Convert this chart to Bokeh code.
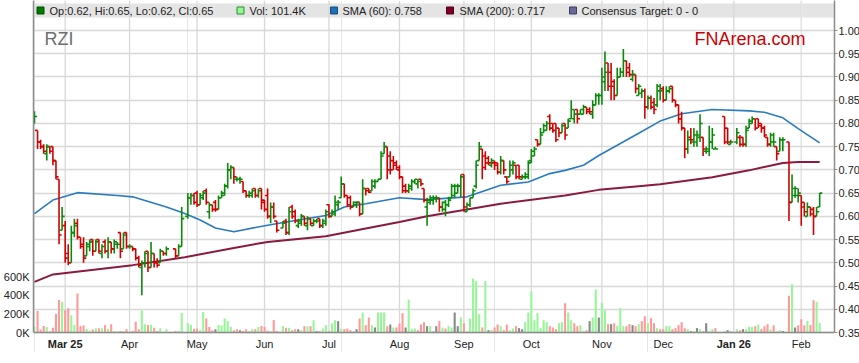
import numpy as np
import pandas as pd
from bokeh.plotting import figure
from bokeh.models import (Range1d, LinearAxis, FixedTicker, ColumnDataSource, BoxAnnotation,
                          Label, Span, NumeralTickFormatter, GlobalInlineStyleSheet)
from bokeh.embed import file_html
from bokeh.resources import INLINE

# ---------------- data ----------------
START = "2025-02-17"
END = "2026-02-10"
holidays = ["2025-04-18", "2025-04-21", "2025-04-25", "2025-06-09",
            "2025-12-25", "2025-12-26", "2026-01-01", "2026-01-26"]

opens = [
    .80, .785, .76, .75, .735, .75, .75, .72, .68, .57,
    .58, .52, .50, .565, .585, .555, .54, .515, .535, .55, .525, .55, .52, .545, .525, .545, .53, .54, .565, .53, .565,
    .535, .535, .53, .51, .49, .50, .525, .49, .52, .50, .50, .525, .52, .53, .515, .535, .60, .64, .645,
    .65, .625, .64, .655, .61, .625, .63, .615, .64, .645, .665, .70, .705, .68, .68, .675, .655, .645, .645, .66, .645, .66,
    .635, .645, .60, .62, .59, .575, .59, .565, .62, .61, .58, .585, .60, .58, .595, .58, .59, .595, .58, .585,
    .625, .60, .605, .625, .64, .67, .645, .64, .62, .625, .63, .605, .66, .66, .655, .665, .675, .68, .735, .75, .73, .72, .715,
    .70, .685, .665, .655, .66, .675, .67, .68, .66, .62, .63, .635, .64, .64, .62, .615, .625, .64, .645, .65, .665,
    .69, .61, .625, .64, .665, .72, .745, .73, .725, .71, .715, .715, .695, .72, .685, .685, .70, .71, .71, .68, .685, .685,
    .72, .73, .765, .755, .78, .785, .815, .80, .80, .79, .78, .80, .79, .81, .81, .83, .82, .82, .835, .83, .82, .84, .86,
    .86, .89, .93, .91, .89, .86, .90, .91, .935, .92, .895, .905, .86, .865, .87, .835, .855, .845, .84, .87,
    .875, .85, .87, .88, .85, .84, .81, .79, .745, .77, .76, .76, .77, .77, .74, .74, .76, .745, .815, .79, .755,
    .76, .77, .77, .755, .79, .80, .81, .81, .80, .79, .77, .755, .76, .75, .74, .765, .76, .63, .645, .645,
    .645, .63, .60, .62, .615, .60, .62,
]
highs = [
    .826, .785, .765, .755, .755, .75, .75, .72, .68, .62,
    .59, .54, .58, .595, .595, .555, .555, .545, .55, .55, .55, .55, .54, .55, .555, .545, .55, .545, .565, .565, .565,
    .54, .535, .53, .515, .505, .525, .525, .545, .52, .51, .53, .525, .535, .53, .54, .62, .65, .65, .65,
    .655, .65, .655, .66, .63, .625, .635, .645, .655, .67, .715, .71, .705, .685, .685, .675, .655, .655, .66, .66, .66, .66,
    .635, .66, .63, .63, .59, .59, .595, .62, .625, .615, .595, .605, .60, .60, .595, .595, .595, .595, .595, .615,
    .626, .615, .645, .635, .686, .67, .645, .645, .632, .632, .63, .68, .66, .66, .68, .68, .68, .74, .76, .75, .74, .73, .72,
    .71, .685, .67, .67, .68, .68, .68, .68, .66, .64, .645, .645, .645, .64, .632, .635, .642, .67, .67, .67, .69,
    .69, .63, .64, .66, .72, .76, .745, .74, .73, .725, .72, .715, .73, .72, .685, .72, .72, .71, .71, .69, .695, .72,
    .745, .75, .765, .79, .80, .805, .82, .80, .80, .79, .80, .80, .81, .85, .83, .83, .83, .84, .835, .835, .85, .865, .865,
    .92, .955, .93, .93, .895, .92, .92, .96, .935, .93, .915, .905, .885, .875, .875, .86, .86, .855, .885, .885,
    .88, .88, .88, .88, .85, .84, .825, .79, .785, .79, .79, .785, .82, .77, .75, .795, .79, .75, .815, .79, .765,
    .79, .775, .77, .795, .81, .815, .81, .81, .80, .795, .77, .78, .78, .75, .77, .77, .76, .69, .665, .66,
    .645, .63, .63, .62, .62, .62, .65,
]
lows = [
    .80, .745, .745, .735, .72, .735, .71, .68, .54, .57,
    .50, .495, .50, .555, .55, .53, .50, .515, .525, .515, .525, .52, .51, .52, .51, .52, .52, .53, .51, .53, .53,
    .53, .525, .505, .49, .43, .49, .48, .49, .49, .49, .50, .515, .515, .51, .515, .535, .595, .625, .625,
    .62, .625, .635, .625, .595, .61, .61, .615, .64, .645, .66, .68, .67, .675, .67, .65, .64, .64, .64, .64, .64, .615,
    .61, .595, .585, .595, .565, .575, .56, .56, .595, .585, .575, .58, .58, .57, .58, .58, .585, .575, .575, .58,
    .597, .60, .60, .615, .64, .64, .62, .615, .62, .618, .60, .605, .645, .65, .655, .66, .675, .68, .735, .68, .69, .70, .70,
    .68, .65, .65, .65, .655, .67, .66, .665, .63, .58, .625, .625, .63, .61, .61, .60, .62, .64, .64, .65, .64,
    .61, .61, .62, .64, .66, .72, .68, .70, .71, .705, .70, .69, .69, .69, .67, .685, .69, .68, .68, .68, .68, .68,
    .715, .73, .75, .755, .78, .785, .785, .78, .76, .77, .78, .765, .79, .81, .80, .80, .82, .82, .82, .82, .81, .84, .84,
    .84, .87, .87, .85, .85, .86, .90, .90, .90, .90, .89, .865, .86, .855, .81, .83, .83, .82, .835, .85,
    .845, .85, .865, .845, .835, .80, .785, .725, .735, .755, .75, .75, .76, .73, .735, .73, .745, .745, .755, .755, .755,
    .755, .75, .75, .75, .79, .80, .785, .79, .78, .77, .75, .75, .75, .72, .74, .74, .59, .63, .64, .63,
    .58, .60, .60, .60, .56, .60, .62,
]
closes = [
    .815, .76, .75, .74, .75, .74, .72, .685, .56, .60,
    .51, .50, .565, .58, .555, .535, .51, .54, .545, .525, .545, .525, .535, .525, .545, .53, .545, .54, .525, .56, .535,
    .535, .53, .51, .495, .50, .52, .49, .52, .50, .495, .525, .52, .53, .515, .535, .595, .64, .645, .63,
    .625, .645, .65, .63, .625, .615, .615, .64, .65, .665, .70, .705, .685, .68, .68, .655, .645, .65, .655, .645, .655, .63,
    .615, .60, .62, .60, .57, .585, .565, .61, .60, .59, .59, .60, .585, .595, .585, .59, .59, .58, .59, .61,
    .60, .61, .63, .63, .67, .645, .625, .62, .63, .63, .605, .66, .655, .652, .675, .675, .68, .73, .75, .70, .70, .71, .705,
    .685, .655, .655, .665, .675, .68, .675, .67, .635, .635, .64, .64, .64, .62, .63, .625, .635, .665, .665, .665, .685,
    .62, .625, .64, .655, .71, .75, .705, .715, .715, .72, .71, .695, .72, .70, .675, .71, .715, .685, .685, .685, .69, .715,
    .74, .745, .755, .775, .795, .80, .79, .785, .765, .78, .795, .775, .805, .83, .82, .81, .83, .835, .825, .825, .84, .86, .86,
    .90, .91, .88, .88, .86, .90, .91, .935, .91, .905, .905, .875, .88, .87, .835, .855, .835, .83, .88, .87,
    .85, .87, .875, .85, .84, .81, .79, .745, .765, .765, .775, .775, .80, .745, .745, .76, .775, .745, .76, .76, .76,
    .78, .755, .755, .785, .805, .81, .79, .795, .79, .775, .755, .775, .76, .735, .765, .765, .63, .66, .66, .65,
    .62, .61, .62, .605, .60, .61, .65,
]
volumes_k = [
    60, 230, 30, 70, 60, 10, 50, 200, 350, 330,
    240, 260, 185, 80, 420, 70, 75, 40, 18, 32, 47, 47, 47, 78, 40, 90, 15, 5, 15, 15, 35,
    5, 18, 115, 35, 240, 90, 80, 82, 50, 15, 45, 5, 35, 15, 15, 210, 100, 80, 40,
    40, 25, 220, 150, 60, 25, 35, 80, 75, 150, 120, 60, 25, 35, 25, 15, 35, 15, 35, 35, 60, 70,
    60, 20, 15, 135, 15, 70, 50, 50, 25, 35, 35, 25, 68, 68, 68, 132, 15, 15, 43, 79,
    15, 97, 132, 122, 43, 36, 43, 25, 15, 36, 150, 215, 79, 161, 79, 54, 215, 215, 215, 68, 86, 54, 54,
    97, 208, 54, 354, 36, 43, 25, 86, 111, 68, 68, 10, 68, 122, 54, 43, 68, 54, 215, 68, 161,
    100, 15, 150, 580, 551, 197, 54, 551, 25, 25, 54, 86, 68, 25, 86, 25, 43, 68, 47, 36, 111, 215,
    444, 132, 208, 47, 132, 111, 68, 54, 36, 100, 111, 315, 215, 132, 100, 68, 79, 15, 25, 122, 161, 462, 161,
    319, 240, 90, 90, 100, 72, 261, 68, 68, 90, 79, 68, 90, 122, 175, 100, 154, 100, 47, 36,
    36, 68, 68, 36, 47, 79, 111, 47, 36, 15, 15, 47, 36, 15, 100, 15, 36, 47, 15, 25, 10,
    36, 25, 36, 36, 60, 60, 68, 86, 36, 68, 90, 36, 79, 10, 25, 15, 394, 520, 55, 78,
    143, 78, 125, 80, 347, 330, 101.4,
]

sma60_dates = ["2025-02-17", "2025-02-25", "2025-03-07", "2025-03-26", "2025-04-02", "2025-04-17",
               "2025-04-25", "2025-05-02", "2025-05-09", "2025-05-19", "2025-06-03", "2025-06-17",
               "2025-06-30", "2025-07-08", "2025-07-17", "2025-08-01", "2025-08-14", "2025-09-02",
               "2025-09-17", "2025-09-30", "2025-10-09", "2025-10-16", "2025-10-24", "2025-10-31",
               "2025-11-10", "2025-11-19", "2025-11-28", "2025-12-09", "2025-12-23", "2026-01-08",
               "2026-01-15", "2026-01-23", "2026-01-30", "2026-02-10"]
sma60 = [.606, .635, .651, .645, .642, .62, .606, .592, .575, .567, .581, .592,
         .602, .62, .627, .64, .636, .642, .667, .674, .692, .699, .71, .731,
         .753, .779, .805, .821, .83, .827, .824, .812, .789, .758]

sma200_dates = ["2025-02-17", "2025-02-25", "2025-04-02", "2025-04-25", "2025-05-19", "2025-06-03",
                "2025-06-30", "2025-07-17", "2025-08-01", "2025-08-14", "2025-09-17", "2025-10-16",
                "2025-10-31", "2025-11-19", "2025-11-28", "2025-12-23", "2026-01-08", "2026-01-23",
                "2026-01-30", "2026-02-10"]
sma200 = [.459, .475, .495, .512, .532, .545, .557, .574, .588, .60, .627, .645,
          .657, .665, .669, .684, .699, .715, .717, .717]

month_dates = ["2025-03-03", "2025-04-01", "2025-05-01", "2025-06-02", "2025-07-01", "2025-08-01",
               "2025-09-01", "2025-10-01", "2025-11-03", "2025-12-01", "2026-01-01", "2026-02-02"]
month_labels = ["Mar 25", "Apr", "May", "Jun", "Jul", "Aug", "Sep", "Oct", "Nov", "Dec", "Jan 26", "Feb"]
bold_labels = ["Mar 25", "Jan 26"]

price_ticks = [0.35, 0.40, 0.45, 0.50, 0.55, 0.60, 0.65, 0.70, 0.75, 0.80, 0.85, 0.90, 0.95, 1.00]
vol_ticks = [0, 200000, 400000, 600000]
vol_tick_labels = ["0K", "200K", "400K", "600K"]

ticker_name = "RZI"
consensus = "0 - 0"

# ---------------- layout helpers ----------------
X0_PX, PX_PER_DAY = 32.0, 3.067       # pixel position of first weekday, pixels per weekday
Y0_PX, PX_PER_PRICE = 332.0, 464.6    # pixel position of price 0.35, pixels per 1.00 of price
VOL_PER_PX = 10753.0                  # volume units per pixel
FONT = "Liberation Sans"
AXIS_GREY = "#8c8c8c"
GRID_GREY = "#d8d8d8"
TEXT = "#222222"


def xpx(px):
    return (px - X0_PX) / PX_PER_DAY


def ypx(py):
    return 0.35 + (Y0_PX - py) / PX_PER_PRICE


def wk(d):
    return int(np.busday_count(np.datetime64(START, "D"), np.datetime64(pd.Timestamp(d).date(), "D")))


dates = [d for d in pd.bdate_range(START, END) if d.strftime("%Y-%m-%d") not in holidays]
assert len(dates) == len(opens) == len(highs) == len(lows) == len(closes) == len(volumes_k)
xs = [wk(d) for d in dates]

col = ["#0a8a0a" if c >= o else "#d40000" for o, c in zip(opens, closes)]
vcol = []
prev = opens[0]
for c in closes:
    vcol.append("#98f598" if c > prev else ("#ff9a9a" if c < prev else "#888888"))
    prev = c

src = ColumnDataSource(dict(
    x=xs, xl=[x - 0.85 for x in xs], xr=[x + 0.85 for x in xs],
    o=opens, h=highs, l=lows, c=closes,
    v=[v * 1000 for v in volumes_k], col=col, vcol=vcol))

FRAME_H = 352
p = figure(frame_width=801, frame_height=FRAME_H,
           x_range=Range1d(xpx(31), xpx(832)), y_range=Range1d(ypx(FRAME_H), ypx(0)),
           x_axis_location=None, y_axis_location="right",
           output_backend="svg", toolbar_location=None,
           min_border_left=31, min_border_right=0, min_border_top=0, min_border_bottom=0,
           background_fill_color="white", border_fill_color="white", outline_line_color=None)
p.stylesheets = [GlobalInlineStyleSheet(css="html, body { margin: 0; padding: 0; overflow: hidden; }")]
p.extra_y_ranges = {"vol": Range1d(-(FRAME_H - Y0_PX) * VOL_PER_PX, Y0_PX * VOL_PER_PX)}

# legend band (under the grid)
p.add_layout(BoxAnnotation(bottom=ypx(17), top=ypx(3), fill_color="#e4e4e4", fill_alpha=1.0,
                           line_color=None, level="image"))

# right (price) axis
ya = p.yaxis[0]
ya.ticker = FixedTicker(ticks=price_ticks)
ya.formatter = NumeralTickFormatter(format="0.00")
ya.bounds = (0.35, ypx(0))
ya.major_tick_out = 3
ya.major_tick_in = 0
ya.major_tick_line_color = AXIS_GREY
ya.minor_tick_line_color = None
ya.axis_line_color = AXIS_GREY
ya.axis_line_width = 1.5
ya.major_label_standoff = 1
ya.major_label_text_font = FONT
ya.major_label_text_font_size = "11px"
ya.major_label_text_color = TEXT

# left (volume) axis
va = LinearAxis(y_range_name="vol", ticker=FixedTicker(ticks=vol_ticks),
                major_label_overrides={t: s for t, s in zip(vol_ticks, vol_tick_labels)})
va.bounds = (0, Y0_PX * VOL_PER_PX)
va.major_tick_out = 0
va.major_tick_in = 0
va.minor_tick_line_color = None
va.axis_line_color = AXIS_GREY
va.axis_line_width = 1.5
va.major_label_standoff = 4
va.major_label_text_font = FONT
va.major_label_text_font_size = "11px"
va.major_label_text_color = TEXT
p.add_layout(va, "left")

# grids: horizontal from the price ticks, vertical at month starts
p.ygrid.grid_line_color = GRID_GREY
p.ygrid.grid_line_width = 1.3
month_x = [wk(d) for d in month_dates]
vgrid = p.segment(x0=month_x, y0=[0.35] * len(month_x), x1=month_x, y1=[ypx(0)] * len(month_x),
                  line_color=GRID_GREY, line_width=1.3)
vgrid.level = "underlay"

# bottom axis line and month labels
p.add_layout(Span(location=0.35, dimension="width", line_color=AXIS_GREY, line_width=1.5))
for mx, lab in zip(month_x, month_labels):
    p.add_layout(Label(x=mx, y=ypx(343), text=lab, text_font=FONT, text_font_size="11px",
                       text_font_style="bold" if lab in bold_labels else "normal",
                       text_color=TEXT, text_align="center", text_baseline="middle"))

# volume
p.vbar(x="x", top="v", bottom=0, width=0.68, y_range_name="vol", source=src,
       fill_color="vcol", line_color=None)

# moving averages
p.line([wk(d) for d in sma200_dates], sma200, line_color="#8b1a40", line_width=2)
p.line([wk(d) for d in sma60_dates], sma60, line_color="#2a7bbf", line_width=1.6)

# OHLC bars
p.segment(x0="x", y0="l", x1="x", y1="h", line_color="col", line_width=1.6, source=src)
p.segment(x0="xl", y0="o", x1="x", y1="o", line_color="col", line_width=1.6, source=src)
p.segment(x0="x", y0="c", x1="xr", y1="c", line_color="col", line_width=1.6, source=src)

# titles inside the plot
p.add_layout(Label(x=xpx(42), y=ypx(38), text=ticker_name, text_font=FONT, text_font_size="18px",
                   text_color="#6e6e6e", text_baseline="alphabetic"))
p.add_layout(Label(x=xpx(692), y=ypx(38), text="FNArena.com", text_font=FONT, text_font_size="18px",
                   text_color="#cc0000", text_baseline="alphabetic"))

# legend strip
legend_items = [
    ("#007a00", "#004d00", f"Op:{opens[-1]:.2f}, Hi:{highs[-1]:.2f}, Lo:{lows[-1]:.2f}, Cl:{closes[-1]:.2f}", 38, 47),
    ("#98f598", "#2d8a2d", f"Vol: {volumes_k[-1]:.1f}K", 238, 247),
    ("#1f6fb5", "#124c80", f"SMA (60): {sma60[-1]:.3f}", 331.5, 340),
    ("#800025", "#4d0016", f"SMA (200): {sma200[-1]:.3f}", 447.5, 457),
    ("#6a6a9a", "#3d3d5c", f"Consensus Target: {consensus}", 570.5, 579),
]
p.scatter([xpx(it[3]) for it in legend_items], [ypx(10)] * len(legend_items), marker="square", size=7,
          fill_color=[it[0] for it in legend_items], line_color=[it[1] for it in legend_items])
for fc, lc, txt, sx, tx in legend_items:
    p.add_layout(Label(x=xpx(tx), y=ypx(10.5), text=txt, text_font=FONT, text_font_size="11px",
                       text_color=TEXT, text_baseline="middle"))

open("out.html", "w").write(file_html(p, INLINE))
